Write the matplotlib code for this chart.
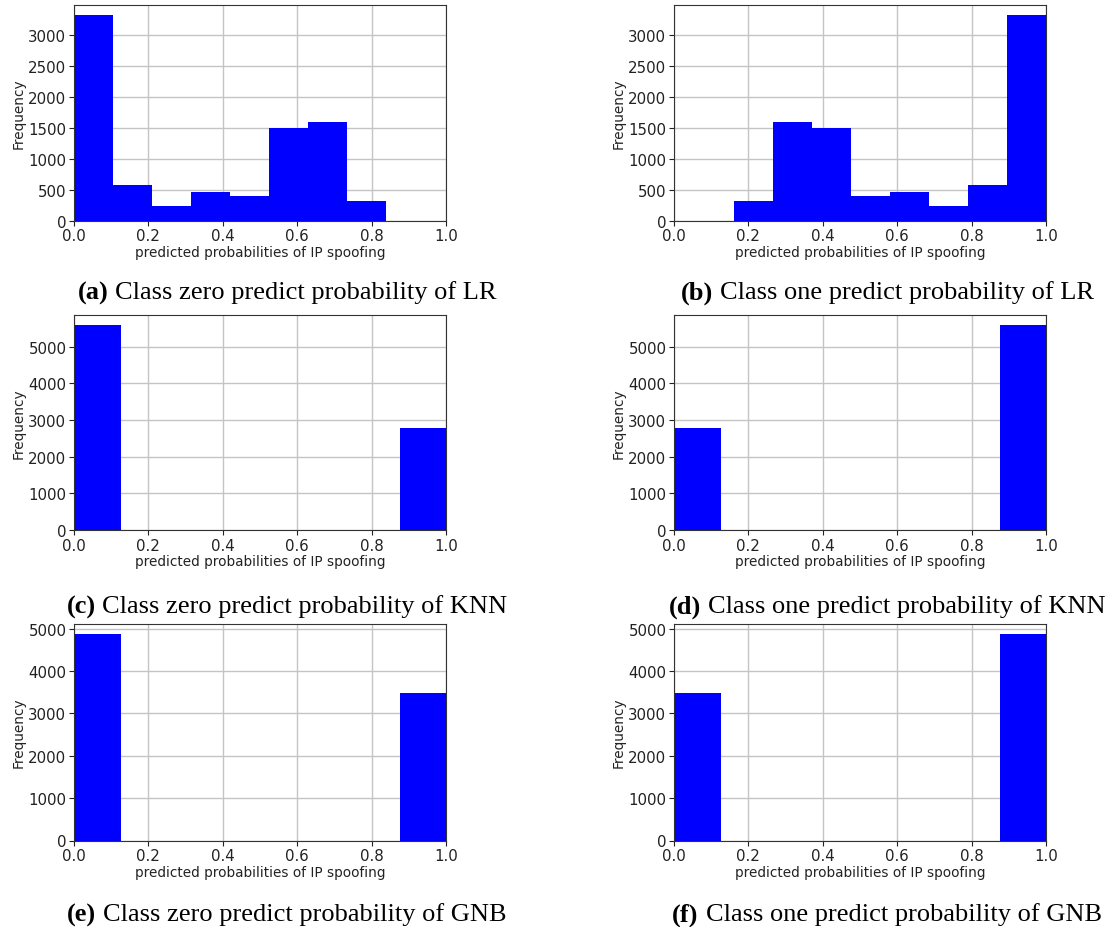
import numpy as np
import matplotlib
matplotlib.use("Agg")
import matplotlib.pyplot as plt
from matplotlib.ticker import MultipleLocator
from matplotlib.offsetbox import TextArea, HPacker, AnchoredOffsetbox

plt.rcParams["font.family"] = ["DejaVu Sans"]

# histogram counts of predicted probabilities (8 bins each)
lr_zero_counts = [3320, 582, 245, 457, 391, 1489, 1598, 310]
lr_zero_range = (0.0, 0.84)
lr_one_counts = [310, 1598, 1489, 391, 457, 245, 582, 3320]
lr_one_range = (0.16, 1.0)

knn_zero_counts = [5580, 0, 0, 0, 0, 0, 0, 2780]
knn_one_counts = [2780, 0, 0, 0, 0, 0, 0, 5580]
gnb_zero_counts = [4880, 0, 0, 0, 0, 0, 0, 3480]
gnb_one_counts = [3480, 0, 0, 0, 0, 0, 0, 4880]
full_range = (0.0, 1.0)

tags = ["(a)", "(b)", "(c)", "(d)", "(e)", "(f)"]
captions = [
    "Class zero predict probability of LR",
    "Class one predict probability of LR",
    "Class zero predict probability of KNN",
    "Class one predict probability of KNN",
    "Class zero predict probability of GNB",
    "Class one predict probability of GNB",
]
xlabel = "predicted probabilities of IP spoofing"
ylabel = "Frequency"

panels = [
    (lr_zero_counts, lr_zero_range, 500),
    (lr_one_counts, lr_one_range, 500),
    (knn_zero_counts, full_range, 1000),
    (knn_one_counts, full_range, 1000),
    (gnb_zero_counts, full_range, 1000),
    (gnb_one_counts, full_range, 1000),
]

W, H = 1109, 928
fig = plt.figure(figsize=(W / 100, H / 100), dpi=100)

# axes boxes in pixels: left, top, right, bottom
boxes = [
    (74, 5.7, 446, 221.7),
    (674, 5.7, 1046, 221.7),
    (74, 316, 446, 531),
    (674, 316, 1046, 531),
    (74, 624.5, 446, 841.5),
    (674, 624.5, 1046, 841.5),
]
caption_pos = [(287, 293), (887, 293), (287, 607), (887, 607), (287, 915), (887, 915)]

for i, ((counts, rng, ystep), box) in enumerate(zip(panels, boxes)):
    l, t, r, b = box
    ax = fig.add_axes([l / W, 1 - b / H, (r - l) / W, (b - t) / H])
    edges = np.linspace(rng[0], rng[1], len(counts) + 1)
    centers = (edges[:-1] + edges[1:]) / 2
    ax.hist(centers, bins=edges, weights=counts, color="#0000ff", zorder=2)
    ax.set_xlim(0, 1.0)
    ax.yaxis.set_major_locator(MultipleLocator(ystep))
    ax.grid(True, color="#c4c4c4", linewidth=1.0, zorder=0)
    ax.set_axisbelow(True)
    ax.tick_params(labelsize=10.8, colors="#222222", pad=2)
    ax.set_xlabel(xlabel, fontsize=9.8, color="#222222", labelpad=1)
    ax.set_ylabel(ylabel, fontsize=9.8, color="#222222", labelpad=2)
    for s in ax.spines.values():
        s.set_color("#333333")

    # caption below the panel, bold tag followed by regular text
    cx, cy = caption_pos[i]
    box_txt = HPacker(
        children=[
            TextArea(tags[i], textprops=dict(family="Liberation Serif", weight="bold", size=19)),
            TextArea(captions[i], textprops=dict(family="Liberation Serif", size=19)),
        ],
        pad=0, sep=5, align="baseline",
    )
    anchored = AnchoredOffsetbox(
        loc="center", child=box_txt, frameon=False, pad=0, borderpad=0,
        bbox_to_anchor=(cx / W, 1 - cy / H), bbox_transform=fig.transFigure,
    )
    fig.add_artist(anchored)

fig.savefig("out.png", dpi=100)
